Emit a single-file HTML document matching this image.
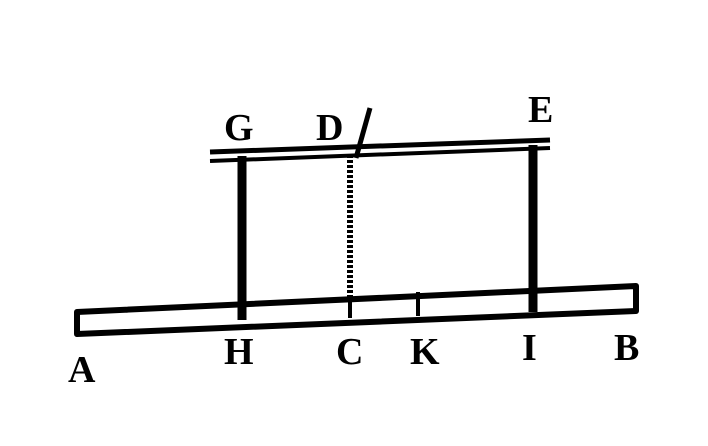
<!DOCTYPE html>
<html><head><meta charset="utf-8"><style>
html,body{margin:0;padding:0;background:#fff;}
svg{display:block}
text{font-family:"Liberation Serif",serif;font-weight:bold;fill:#000;}
</style></head><body>
<svg width="708" height="446" viewBox="0 0 708 446">
<rect width="708" height="446" fill="#fff"/>
<!-- lower bar -->
<polygon points="77,312 636,286 636,311 77,334" fill="none" stroke="#000" stroke-width="6" stroke-linejoin="round"/>
<!-- upper double line -->
<g stroke="#000" fill="none">
<line x1="210" y1="152" x2="550" y2="140" stroke-width="5"/>
<line x1="210" y1="161" x2="550" y2="148" stroke-width="4"/>
</g>
<!-- verticals -->
<line x1="242" y1="156" x2="242" y2="320" stroke="#000" stroke-width="9"/>
<line x1="350" y1="155" x2="350" y2="298" stroke="#000" stroke-width="6" stroke-dasharray="3,2"/>
<line x1="533" y1="145" x2="533" y2="312" stroke="#000" stroke-width="9"/>
<line x1="350" y1="296" x2="350" y2="318" stroke="#000" stroke-width="4"/>
<line x1="418" y1="292" x2="418" y2="316" stroke="#000" stroke-width="4"/>
<line x1="356" y1="158" x2="370" y2="108" stroke="#000" stroke-width="5"/>
<!-- labels -->
<g font-size="38">
<text x="224" y="140">G</text>
<text x="316" y="140">D</text>
<text x="528" y="122">E</text>
<text x="68" y="382">A</text>
<text x="224" y="364">H</text>
<text x="336" y="364">C</text>
<text x="410" y="364">K</text>
<text x="522" y="360">I</text>
<text x="614" y="360">B</text>
</g>
</svg>
</body></html>
